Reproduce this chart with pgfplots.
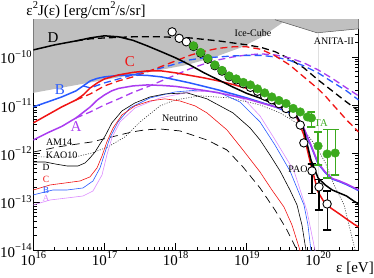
\documentclass[border=0pt]{standalone}
\usepackage{fontspec}
\setmainfont{Liberation Serif}
\usepackage{pgfplots}
\pgfplotsset{compat=1.18}
\definecolor{cC}{RGB}{240,20,20}
\definecolor{cB}{RGB}{40,90,255}
\definecolor{cA}{RGB}{170,60,240}
\definecolor{cAt}{RGB}{220,140,255}
\definecolor{cTA}{RGB}{60,170,30}
\definecolor{shade}{RGB}{192,192,192}
\newcommand{\sps}[1]{\raisebox{0.45em}{\fontsize{10.5}{12}\selectfont #1}}
\begin{document}
\begin{tikzpicture}
\begin{axis}[
  at={(0pt,0pt)}, anchor=south west,
  scale only axis, width=325.2pt, height=230.6pt,
  xmode=log, ymode=log,
  xmin=1e16, xmax=3.7e20, ymin=1e-14, ymax=5.9e-10,
  xtick={1e16,1e17,1e18,1e19,1e20},
  xticklabels={10\sps{16},10\sps{17},10\sps{18},10\sps{19},10\sps{20}},
  ytick={1e-14,1e-13,1e-12,1e-11,1e-10},
  yticklabels={10\sps{−14},10\sps{−13},10\sps{−12},10\sps{−11},10\sps{−10}},
  minor xtick={2e16,3e16,4e16,5e16,6e16,7e16,8e16,9e16,2e17,3e17,4e17,5e17,6e17,7e17,8e17,9e17,2e18,3e18,4e18,5e18,6e18,7e18,8e18,9e18,2e19,3e19,4e19,5e19,6e19,7e19,8e19,9e19,2e20,3e20},
  minor ytick={2e-14,3e-14,4e-14,5e-14,6e-14,7e-14,8e-14,9e-14,2e-13,3e-13,4e-13,5e-13,6e-13,7e-13,8e-13,9e-13,2e-12,3e-12,4e-12,5e-12,6e-12,7e-12,8e-12,9e-12,2e-11,3e-11,4e-11,5e-11,6e-11,7e-11,8e-11,9e-11,2e-10,3e-10,4e-10,5e-10},
  tick pos=both, tick align=inside,
  major tick length=7pt, minor tick length=3.5pt,
  tick style={black, line width=0.8pt},
  axis line style={line width=1pt},
  tick label style={font=\fontsize{15}{16}\selectfont},
  xticklabel style={inner sep=1pt},
  yticklabel style={inner sep=1.5pt},
]
% shaded exclusion region (Ice-Cube + ANITA-II)
\addplot[fill=shade, draw=none] coordinates {
(1e16,1e-9) (1e16,1.81e-11) (1.19e17,3.52e-11) (4.36e17,4.92e-11) (1.44e18,6.85e-11)
(3.56e18,1.00e-10) (8.0e18,1.54e-10) (1.53e19,2.48e-10) (2.48e19,4.0e-10) (3.21e19,5.2e-10)
(9.66e19,3.16e-10) (3.7e20,3.82e-10) (3.7e20,1e-9)} -- cycle;
\addplot[gray!70!black, line width=0.5pt] coordinates {(2.48e19,5.9e-10) (9.66e19,3.16e-10) (3.7e20,3.82e-10)};
\addplot[gray!25, line width=0.5pt] coordinates {(1e20,3.16e-10) (1e20,1e-14)};
% AM14 (dashed thin)
\addplot[black, line width=0.7pt, dash pattern=on 8pt off 5pt] coordinates {
(1e16,1.08e-12) (2.22e16,1.38e-12) (6.67e16,1.75e-12) (1.27e17,2.22e-12) (2.43e17,2.81e-12)
(3.71e17,3.10e-12) (6.01e17,3.24e-12) (1.15e18,2.95e-12) (2.75e18,1.92e-12) (5.25e18,1.19e-12)
(8.81e18,5.30e-13) (1.53e19,1.95e-13) (2.48e19,6.83e-14) (3.66e19,2.63e-14) (5.06e19,1e-14) (5.4e19,6e-15)};
% KAO10 (dotted)
\addplot[black!80, line width=0.6pt, dash pattern=on 1pt off 1.5pt] coordinates {
(1e16,8.55e-13) (3.85e16,8.55e-13) (6.67e16,1.03e-12) (1.12e17,1.38e-12) (1.94e17,2.22e-12)
(3.16e17,4.53e-12) (6.03e17,9.73e-12) (9.77e17,1.29e-11) (2.19e18,1.57e-11) (5.80e18,1.42e-11)
(1.53e19,1.02e-11) (2.92e19,6.97e-12) (5.57e19,3.93e-12) (9.06e19,1.51e-12) (1.25e20,6.73e-13)
(1.68e20,2.25e-13) (2.32e20,8.67e-14) (3.01e20,1.80e-14) (3.31e20,1e-14) (3.4e20,6e-15)};
% thin A
\addplot[cAt, line width=0.6pt] coordinates {
(1e16,8.67e-14) (1.72e16,1.10e-13) (2.97e16,1.21e-13) (4.99e16,1.33e-13) (6.89e16,1.69e-13)
(9.23e16,3.62e-13) (1.08e17,9.40e-13) (1.27e17,2.11e-12) (1.65e17,4.53e-12) (2.68e17,8.83e-12)
(6.01e17,1.42e-11) (1.59e18,1.89e-11) (4.19e18,1.99e-11) (9.40e18,1.29e-11) (1.53e19,6.04e-12)
(2.40e19,2.11e-12) (4.59e19,4.39e-13) (6.98e19,6.52e-14) (9.06e19,1e-14) (9.66e19,6e-15)};
% thin B
\addplot[cB, line width=0.6pt] coordinates {
(1e16,1.40e-13) (1.89e16,1.77e-13) (2.97e16,1.77e-13) (4.99e16,1.95e-13) (6.89e16,2.72e-13)
(8.65e16,5.06e-13) (1.02e17,1.08e-12) (1.19e17,2.11e-12) (1.55e17,4.53e-12) (2.28e17,8.83e-12)
(4.36e17,1.42e-11) (9.77e17,1.89e-11) (2.19e18,2.08e-11) (4.19e18,1.81e-11) (8.0e18,1.17e-11)
(1.53e19,4.53e-12) (2.48e19,1.51e-12) (4.03e19,4.39e-13) (6.34e19,8.67e-14) (7.21e19,3.34e-14)
(7.94e19,1e-14) (8.5e19,6e-15)};
% thin C
\addplot[cC, line width=0.6pt] coordinates {
(1e16,1.77e-13) (1.72e16,2.25e-13) (2.79e16,2.47e-13) (4.53e16,2.72e-13) (6.25e16,3.30e-13)
(7.85e16,5.06e-13) (9.23e16,8.95e-13) (1.08e17,1.75e-12) (1.32e17,3.40e-12) (1.76e17,6.32e-12)
(2.68e17,9.73e-12) (4.36e17,1.23e-11) (7.08e17,1.36e-11) (1.15e18,1.23e-11) (1.87e18,9.73e-12)
(2.75e18,6.97e-12) (5.25e18,3.10e-12) (8.81e18,1.19e-12) (1.53e19,4.18e-13) (2.25e19,1.77e-13)
(3.32e19,7.87e-14) (4.30e19,3.34e-14) (5.57e19,1e-14) (5.94e19,6e-15)};
% thin D
\addplot[black, line width=0.6pt] coordinates {
(1e16,6.73e-13) (1.46e16,6.73e-13) (2.02e16,6.12e-13) (2.97e16,5.56e-13) (4.25e16,5.56e-13)
(5.32e16,6.41e-13) (6.25e16,8.15e-13) (7.36e16,1.08e-12) (8.65e16,1.59e-12) (1.02e17,2.32e-12)
(1.27e17,4.33e-12) (1.76e17,7.66e-12) (2.68e17,1.12e-11) (4.36e17,1.49e-11) (7.08e17,1.72e-11)
(1.44e18,1.81e-11) (2.75e18,1.36e-11) (6.38e18,6.97e-12) (1.11e19,3.40e-12) (1.53e19,1.92e-12)
(2.11e19,9.4e-13) (2.92e19,4.39e-13) (4.03e19,1.77e-13) (5.06e19,8.67e-14) (5.94e19,3.34e-14)
(6.76e19,1e-14) (7.2e19,5e-15)};
% dashed thick
\addplot[black, line width=1.3pt, dash pattern=on 7pt off 4pt] coordinates {
(3.98e16,2.15e-10) (6.31e16,2.37e-10) (1e17,2.48e-10) (2.51e17,2.61e-10) (6.31e17,2.61e-10)
(1.58e18,2.48e-10) (3.98e18,2.15e-10) (1e19,1.78e-10) (1.58e19,1.58e-10) (2.51e19,1.28e-10)
(3.98e19,9.14e-11) (6.31e19,5.94e-11) (1e20,3.36e-11) (1.58e20,1.99e-11) (2.51e20,1.17e-11) (3.7e20,7.66e-12)};
\addplot[cA, line width=1.3pt, dash pattern=on 7pt off 4pt] coordinates {
(3.98e16,5.48e-12) (6.31e16,7.29e-12) (1e17,1.02e-11) (1.58e17,1.36e-11) (2.51e17,1.85e-11)
(3.98e17,2.40e-11) (6.31e17,3.20e-11) (1e18,4.26e-11) (1.58e18,5.68e-11) (2.51e18,7.19e-11)
(3.98e18,8.71e-11) (6.31e18,1.00e-10) (1e19,1.10e-10) (1.58e19,1.16e-10) (2.51e19,1.10e-10)
(3.98e19,9.57e-11) (6.31e19,7.55e-11) (1e20,5.41e-11) (1.58e20,3.61e-11) (2.51e20,2.29e-11) (3.7e20,1.57e-11)};
\addplot[cB, line width=1.3pt, dash pattern=on 7pt off 4pt] coordinates {
(5.01e16,2.52e-11) (6.31e16,2.29e-11) (1e17,2.91e-11) (1.58e17,3.52e-11) (2.51e17,4.26e-11)
(3.98e17,5.04e-11) (6.31e17,5.94e-11) (1e18,7.19e-11) (1.58e18,8.71e-11) (2.51e18,9.57e-11)
(3.98e18,1.00e-10) (6.31e18,1.05e-10) (1e19,1.08e-10) (1.58e19,1.08e-10) (2.51e19,1.00e-10)
(3.98e19,8.51e-11) (6.31e19,6.55e-11) (1e20,4.69e-11) (1.58e20,3.05e-11) (2.51e20,1.99e-11) (3.7e20,1.29e-11)};
\addplot[cC, line width=1.3pt, dash pattern=on 7pt off 4pt] coordinates {
(3.98e16,1.29e-11) (6.31e16,1.72e-11) (1e17,2.52e-11) (1.58e17,3.20e-11) (2.51e17,3.87e-11)
(3.98e17,4.92e-11) (6.31e17,6.38e-11) (1e18,8.30e-11) (1.58e18,1.08e-10) (2.51e18,1.31e-10)
(3.98e18,1.51e-10) (6.31e18,1.62e-10) (1e19,1.62e-10) (1.58e19,1.44e-10) (2.51e19,1.05e-10)
(3.98e19,6.85e-11) (6.31e19,3.87e-11) (1e20,2.19e-11) (1.26e20,1.57e-11) (1.58e20,1.07e-11)
(2e20,7.29e-12) (2.51e20,4.99e-12) (3.16e20,3.57e-12) (3.7e20,2.81e-12)};
% solid thick
\addplot[cB, line width=1.5pt] coordinates {
(1e16,9.27e-12) (1.58e16,1.17e-11) (2.51e16,1.49e-11) (3.98e16,1.99e-11) (5.01e16,2.52e-11)
(6.31e16,3.20e-11) (7.94e16,3.61e-11) (1e17,3.87e-11) (1.58e17,4.16e-11) (2.51e17,4.26e-11)
(3.98e17,4.16e-11) (6.31e17,3.87e-11) (1e18,3.36e-11) (1.58e18,2.91e-11) (2.51e18,2.46e-11)
(3.98e18,2.08e-11) (6.31e18,1.72e-11) (1e19,1.42e-11) (1.58e19,1.15e-11) (2.51e19,9.27e-12)
(3.98e19,6.97e-12) (5.01e19,5.48e-12) (6.31e19,3.25e-12) (7.94e19,1.45e-12) (1e20,6.2e-13)
(1.26e20,4.05e-13) (1.58e20,2.98e-13) (2e20,2.64e-13) (2.51e20,2.29e-13) (3.16e20,1.94e-13) (3.7e20,1.72e-13)};
\addplot[cA, line width=1.5pt] coordinates {
(1e16,1.92e-12) (1.58e16,2.69e-12) (2.51e16,3.66e-12) (3.98e16,5.48e-12) (6.31e16,9.27e-12)
(7.94e16,1.29e-11) (1e17,1.64e-11) (1.26e17,1.99e-11) (1.58e17,2.24e-11) (2.51e17,2.52e-11)
(3.98e17,2.64e-11) (6.31e17,2.58e-11) (1e18,2.46e-11) (1.58e18,2.24e-11) (2.51e18,2.03e-11)
(3.98e18,1.81e-11) (6.31e18,1.57e-11) (1e19,1.36e-11) (1.58e19,1.12e-11) (2.51e19,9.27e-12)
(3.98e19,7.66e-12) (5.01e19,6.04e-12) (6.31e19,3.40e-12) (7.94e19,1.51e-12) (1e20,6.41e-13)
(1.26e20,4.18e-13) (1.58e20,3.07e-13) (2e20,2.72e-13) (2.51e20,2.36e-13) (3.16e20,2.00e-13) (3.7e20,1.77e-13)};
\addplot[cC, line width=1.5pt] coordinates {
(1e16,4.33e-12) (1.58e16,6.32e-12) (2.51e16,9.27e-12) (3.98e16,1.29e-11) (5.01e16,1.64e-11)
(6.31e16,2.29e-11) (7.94e16,2.91e-11) (1e17,3.52e-11) (1.58e17,4.26e-11) (2.51e17,4.80e-11)
(3.98e17,5.15e-11) (6.31e17,5.15e-11) (1e18,4.69e-11) (1.58e18,4.16e-11) (2.51e18,3.69e-11)
(3.98e18,3.20e-11) (6.31e18,2.71e-11) (1e19,2.24e-11) (1.58e19,1.81e-11) (2.51e19,1.29e-11)
(3.98e19,8.41e-12) (5.01e19,5.75e-12) (6.31e19,2.44e-12) (7.94e19,5.83e-13) (1e20,1.61e-13)
(1.26e20,9.10e-14) (1.58e20,7.16e-14) (2e20,5.65e-14) (2.51e20,4.45e-14) (3.16e20,3.51e-14) (3.7e20,3.04e-14)};
\addplot[black, line width=1.5pt] coordinates {
(1e16,1.40e-10) (2e16,1.78e-10) (3.98e16,2.15e-10) (6.31e16,2.48e-10) (1e17,2.74e-10)
(1.58e17,2.61e-10) (2.51e17,2.21e-10) (3.98e17,1.70e-10) (6.31e17,1.28e-10) (1e18,9.57e-11)
(1.58e18,6.85e-11) (2.51e18,4.69e-11) (3.98e18,3.36e-11) (6.31e18,2.40e-11) (1e19,1.76e-11)
(1.58e19,1.39e-11) (2.51e19,1.04e-11) (3.98e19,7.66e-12) (5.01e19,6.04e-12) (6.31e19,3.10e-12)
(7.94e19,7.41e-13) (1e20,3.14e-13) (1.26e20,2.25e-13) (1.58e20,1.77e-13) (2e20,1.53e-13)
(2.51e20,1.33e-13) (3.16e20,1.05e-13) (3.7e20,9.1e-14)};
% PAO error bars
\addplot[black, line width=1.1pt] coordinates {(7.22e19,1.53e-13) (9.35e19,1.53e-13) (8.22e19,1.53e-13) (8.22e19,6.12e-13) (7.22e19,6.12e-13) (9.35e19,6.12e-13)};
\addplot[black, line width=1.1pt] coordinates {(9.05e19,6.83e-14) (1.17e20,6.83e-14) (1.03e20,6.83e-14) (1.03e20,2.86e-13) (9.05e19,2.86e-13) (1.17e20,2.86e-13)};
\addplot[black, line width=1.1pt] coordinates {(1.18e20,2.63e-14) (1.52e20,2.63e-14) (1.34e20,2.63e-14) (1.34e20,1.69e-13) (1.18e20,1.69e-13) (1.52e20,1.69e-13)};
% PAO
\addplot[only marks, mark=*, mark size=4.2pt, mark options={fill=white, draw=black, line width=0.9pt}] coordinates {
(8.91e17,3.31e-10) (1.12e18,2.43e-10) (1.41e18,2.06e-10) (1.78e18,1.65e-10) (2.24e18,1.20e-10)
(2.82e18,9.0e-11) (3.55e18,6.6e-11) (4.47e18,5.1e-11) (5.62e18,3.9e-11) (7.08e18,3.35e-11)
(8.91e18,2.8e-11) (1.12e19,2.35e-11) (1.41e19,1.95e-11) (1.78e19,1.55e-11) (2.24e19,1.3e-11)
(2.82e19,1.08e-11) (3.55e19,8.6e-12) (4.47e19,6.6e-12) (5.62e19,3.9e-12) (6.31e19,1.67e-12)
(8.22e19,4.39e-13) (1.03e20,2.05e-13) (1.34e20,9.10e-14)};
% TA error bars
\addplot[cTA, line width=1.2pt] coordinates {(7.07e19,3.57e-12) (9.16e19,3.57e-12) (8.05e19,3.57e-12) (8.05e19,7.29e-12) (7.07e19,7.29e-12) (9.16e19,7.29e-12)};
\addplot[cTA, line width=1.2pt] coordinates {(8.79e19,5.83e-13) (1.138e20,5.83e-13) (1e20,5.83e-13) (1e20,2.81e-12) (8.79e19,2.81e-12) (1.138e20,2.81e-12)};
\addplot[cTA, line width=1.2pt] coordinates {(1.18e20,3.14e-13) (1.52e20,3.14e-13) (1.34e20,3.14e-13) (1.34e20,3.10e-12) (1.18e20,3.10e-12) (1.52e20,3.10e-12)};
\addplot[cTA, line width=1.2pt] coordinates {(1.53e20,3.62e-13) (1.98e20,3.62e-13) (1.74e20,3.62e-13) (1.74e20,3.10e-12) (1.53e20,3.10e-12) (1.98e20,3.10e-12)};
% TA
\addplot[only marks, mark=*, mark size=4.3pt, mark options={fill=cTA, draw=cTA}] coordinates {
(1.78e18,1.70e-10) (2.24e18,1.24e-10) (2.82e18,9.35e-11) (3.55e18,6.85e-11) (4.47e18,5.28e-11)
(5.62e18,4.06e-11) (7.08e18,3.52e-11) (8.91e18,2.98e-11) (1.12e19,2.64e-11) (1.41e19,2.19e-11)
(1.78e19,1.81e-11) (2.24e19,1.49e-11) (2.82e19,1.26e-11) (3.55e19,1.09e-11) (4.47e19,8.63e-12)
(5.62e19,7.29e-12) (7.08e19,5.75e-12) (8.05e19,5.48e-12) (1e20,1.44e-12) (1.34e20,9.86e-13) (1.74e20,1.03e-12)};
% labels
\node[font=\fontsize{15}{16}\selectfont] at (axis cs:1.89e16,2.48e-10) {D};
\node[font=\fontsize{15}{16}\selectfont, text=cC] at (axis cs:2.28e17,7.92e-11) {C};
\node[font=\fontsize{15}{16}\selectfont, text=cB] at (axis cs:2.37e16,2.08e-11) {B};
\node[font=\fontsize{15}{16}\selectfont, text=cA] at (axis cs:3.98e16,3.57e-12) {A};
\node[font=\fontsize{10}{11}\selectfont] at (axis cs:1.22e19,3.15e-10) {Ice-Cube};
\node[font=\fontsize{10}{11}\selectfont] at (axis cs:1.67e20,2.15e-10) {ANITA-II};
\node[font=\fontsize{10}{11}\selectfont] at (axis cs:1.15e18,5.48e-12) {Neutrino};
\node[font=\fontsize{10.5}{11}\selectfont, text=cTA] at (axis cs:1.10e20,4.32e-12) {TA};
\node[font=\fontsize{10}{11}\selectfont] at (axis cs:5.22e19,4.82e-13) {PAO};
\node[font=\fontsize{10}{11}\selectfont] at (axis cs:2.3e16,1.7e-12) {AM14};
\node[font=\fontsize{10}{11}\selectfont] at (axis cs:2.5e16,9.4e-13) {KAO10};
\node[font=\fontsize{9.5}{10}\selectfont] at (axis cs:1.51e16,5.3e-13) {D};
\node[font=\fontsize{9.5}{10}\selectfont, text=cC] at (axis cs:1.51e16,2.9e-13) {C};
\node[font=\fontsize{9.5}{10}\selectfont, text=cB] at (axis cs:1.51e16,1.77e-13) {B};
\node[font=\fontsize{9.5}{10}\selectfont, text=cAt] at (axis cs:1.51e16,1.18e-13) {A};
\end{axis}
\node[font=\fontsize{15}{16}\selectfont] at (52.7pt,240.3pt) {ε\sps{2}J(ε) [erg/cm\sps{2}/s/sr]};
\node[font=\fontsize{15}{16}\selectfont] at (321.7pt,-17.7pt) {ε [eV]};
\pgfresetboundingbox
\useasboundingbox (-33.3pt,-26.7pt) rectangle (340.7pt,250.3pt);
\end{tikzpicture}
\end{document}
